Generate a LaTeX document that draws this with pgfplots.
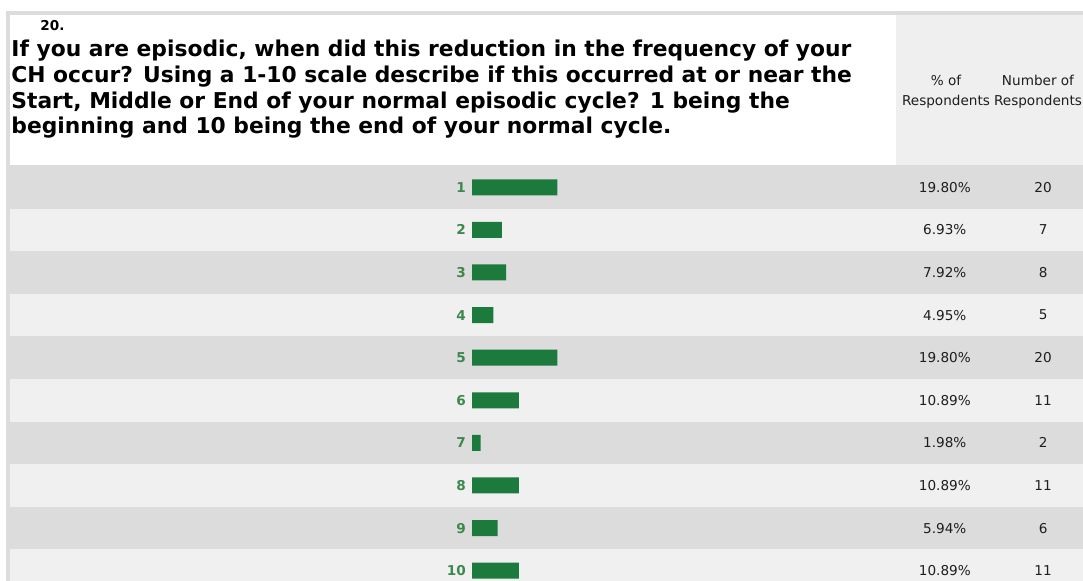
\documentclass[border=0pt]{standalone}
\usepackage{pgfplots}
\pgfplotsset{compat=1.18}
\usepackage{pgfplotstable}
\usepackage{fontspec}
\setmainfont{DejaVu Sans}

\definecolor{bargreen}{RGB}{27,122,60}
\definecolor{labgreen}{RGB}{60,136,78}
\definecolor{rowdark}{RGB}{220,220,220}
\definecolor{rowlight}{RGB}{240,240,240}
\definecolor{headgrey}{RGB}{239,239,239}
\definecolor{numtext}{RGB}{30,30,30}

% answer, percent of respondents, number of respondents
\pgfplotstableread{
row pct n
1 19.80 20
2 6.93 7
3 7.92 8
4 4.95 5
5 19.80 20
6 10.89 11
7 1.98 2
8 10.89 11
9 5.94 6
10 10.89 11
}\resp

\newcommand{\smallfont}{\fontsize{6.8}{9.8}\selectfont}

\begin{document}
\begin{tikzpicture}
\useasboundingbox (0,0) rectangle (541.5pt,290.5pt);
\clip (0,0) rectangle (541.5pt,290.5pt);
% background, in pixel units of the reference
\begin{scope}[x=0.5pt,y=-0.5pt,shift={(0pt,290.5pt)}]
  \fill[white] (0,0) rectangle (1083,581);
  \fill[rowdark] (6,11) rectangle (1083,581);
  \fill[white] (10,15) rectangle (896,165.5);
  \fill[headgrey] (896,15) rectangle (1083,165.5);
  \foreach \i in {2,4,6,8,10}
    \fill[rowlight] (10,{166+(\i-1)*42.6}) rectangle (1083,{166+\i*42.6});
  \node[anchor=base west,inner sep=0,font=\bfseries\fontsize{6.8}{8}\selectfont] at (40,31) {20.};
  \begin{scope}[every node/.style={anchor=base west,inner sep=0,font=\bfseries\fontsize{10.9}{12}\selectfont}]
    \node at (11,57) {If you are episodic, when did this reduction in the frequency of your};
    \node at (11,83) {CH occur? Using a 1-10 scale describe if this occurred at or near the};
    \node at (11,108.5) {Start, Middle or End of your normal episodic cycle? 1 being the};
    \node at (11,134) {beginning and 10 being the end of your normal cycle.};
  \end{scope}
  \node[align=center,font=\smallfont,text=numtext] at (946,92) {\% of\\Respondents};
  \node[align=center,font=\smallfont,text=numtext] at (1038,92) {Number of\\Respondents};
\end{scope}

\begin{axis}[
  at={(0,0)}, anchor=south west,
  width=541.5pt, height=290.5pt, scale only axis,
  hide axis, clip=false,
  xmin=-109.51, xmax=141.76,
  ymin=-3.397, ymax=10.242, y dir=reverse,
  /pgf/number format/assume math mode=true,
]
\addplot[xbar, bar width=0.3756, fill=bargreen, draw=none] table[x=pct,y=row]{\resp};
% answer labels
\addplot[draw=none, mark=none, point meta=explicit,
  nodes near coords={\pgfmathprintnumber[fixed,precision=0]{\pgfplotspointmeta}},
  nodes near coords style={anchor=east, font=\smallfont\bfseries, text=labgreen, inner sep=1pt}]
  table[x expr=-0.9, y=row, meta=row]{\resp};
% percent column
\addplot[draw=none, mark=none, point meta=explicit,
  nodes near coords={\pgfmathprintnumber[fixed,fixed zerofill,precision=2]{\pgfplotspointmeta}\%},
  nodes near coords style={anchor=center, font=\smallfont, text=numtext}]
  table[x expr=109.7, y=row, meta=pct]{\resp};
% count column
\addplot[draw=none, mark=none, point meta=explicit,
  nodes near coords={\pgfmathprintnumber[fixed,precision=0]{\pgfplotspointmeta}},
  nodes near coords style={anchor=center, font=\smallfont, text=numtext}]
  table[x expr=132.5, y=row, meta=n]{\resp};
\end{axis}
\end{tikzpicture}
\end{document}
